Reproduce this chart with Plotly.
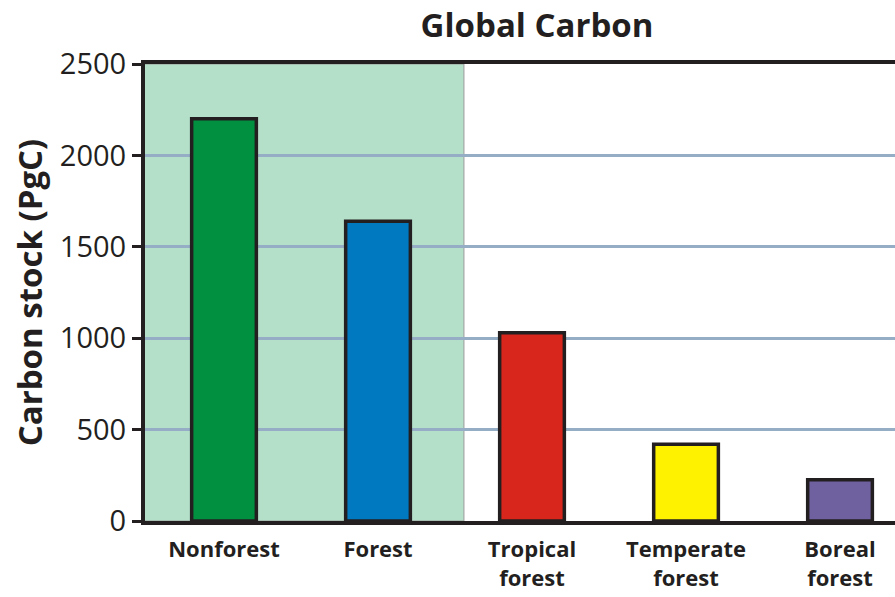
import plotly.graph_objects as go

categories = ["Nonforest", "Forest", "Tropical<br>forest", "Temperate<br>forest", "Boreal<br>forest"]
values = [2200, 1640, 1030, 420, 225]
colors = ["#00903f", "#0079c1", "#d9261c", "#fff200", "#6f61a0"]
y_ticks = [0, 500, 1000, 1500, 2000, 2500]

FONT = "Open Sans"
INK = "#231f20"
fig = go.Figure()
fig.add_trace(go.Bar(
    x=list(range(len(categories))), y=values,
    width=0.42,
    marker=dict(color=colors, line=dict(color=INK, width=3.5)),
    hoverinfo="skip",
))

fig.add_shape(type="rect", xref="x", yref="paper", x0=-0.52, x1=1.558, y0=0, y1=1,
              fillcolor="#b4dfc9", line=dict(color="#9a9a9a", width=1), layer="below")

fig.update_layout(
    width=895, height=597,
    margin=dict(l=145, r=0, t=64, b=76),
    paper_bgcolor="white", plot_bgcolor="white",
    showlegend=False,
    title=dict(text="<b>Global Carbon</b>", x=0.6, xanchor="center", y=0.958, yanchor="middle",
               font=dict(family=FONT, size=33, color=INK)),
    xaxis=dict(
        range=[-0.513, 4.357],
        tickmode="array", tickvals=list(range(len(categories))),
        ticktext=["<b>%s</b>" % c for c in categories],
        tickfont=dict(family=FONT, size=22, color=INK),
        showline=True, linecolor=INK, linewidth=4, mirror=True,
        ticks="outside", ticklen=6, tickcolor="rgba(0,0,0,0)",
        showgrid=False, zeroline=False,
    ),
    yaxis=dict(
        range=[0, 2500],
        tickmode="array", tickvals=y_ticks,
        tickfont=dict(family=FONT, size=29, color=INK),
        ticks="outside", ticklen=9, tickwidth=3, tickcolor=INK,
        showline=True, linecolor=INK, linewidth=4,
        showgrid=True, gridcolor="#95aec5", gridwidth=3,
        zeroline=False,
        title=dict(text="<b>Carbon stock (PgC)</b>", standoff=8,
                   font=dict(family=FONT, size=33, color=INK)),
    ),
)

fig.write_html("out.html", config={"displayModeBar": False},
               post_script="document.body.style.margin='0';document.body.style.overflow='hidden';")
